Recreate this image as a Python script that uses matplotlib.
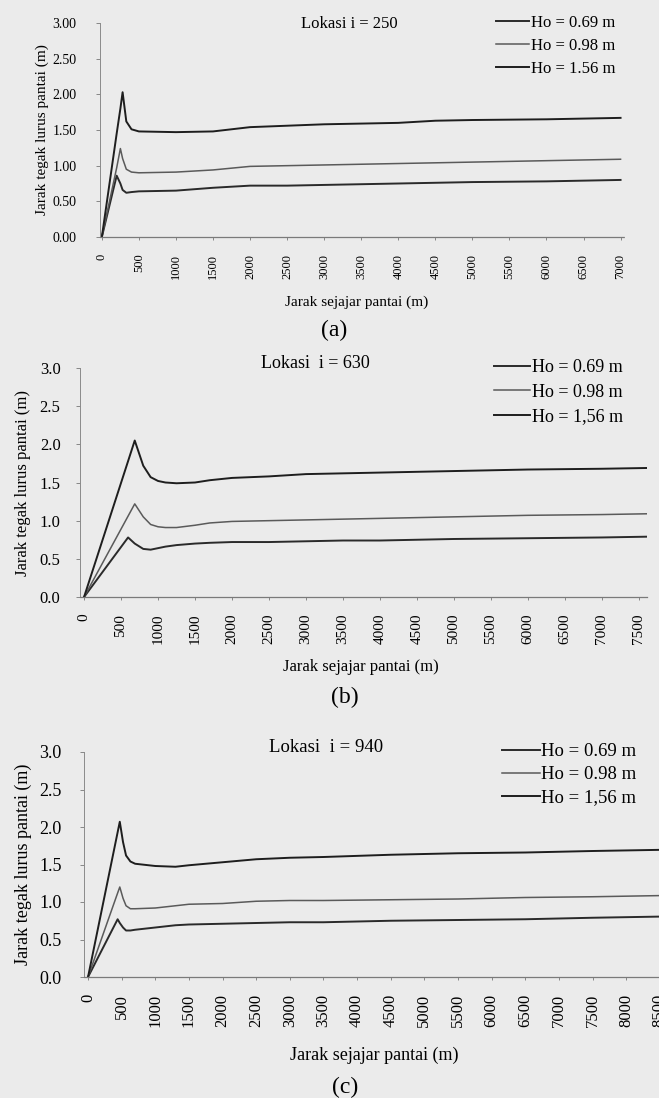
import matplotlib.pyplot as plt
import numpy as np

plt.rcParams['font.family'] = ['Liberation Serif', 'DejaVu Serif']

# data
labels = ['Ho = 0.69 m', 'Ho = 0.98 m', 'Ho = 1.56 m']
labels_c = ['Ho = 0.69 m', 'Ho = 0.98 m', 'Ho = 1,56 m']

# (a) lokasi i = 250
x_a = [0, 200, 250, 280, 330, 400, 500, 1000, 1500, 2000, 2500, 3000, 3500, 4000, 4500, 5000, 6000, 7000]
a_069 = [0, 0.86, 0.75, 0.66, 0.62, 0.63, 0.64, 0.65, 0.69, 0.72, 0.72, 0.73, 0.74, 0.75, 0.76, 0.77, 0.78, 0.80]
a_098 = [0, 0.97, 1.24, 1.10, 0.95, 0.91, 0.90, 0.91, 0.94, 0.99, 1.00, 1.01, 1.02, 1.03, 1.04, 1.05, 1.07, 1.09]
a_156 = [0, 1.45, 1.80, 2.03, 1.62, 1.51, 1.48, 1.47, 1.48, 1.54, 1.56, 1.58, 1.59, 1.60, 1.63, 1.64, 1.65, 1.67]

# (b) lokasi i = 630
x_b = [0, 595, 685, 800, 900, 1000, 1100, 1250, 1500, 1700, 2000, 2500, 3000, 3500, 4000, 5000, 6000, 7000, 7600]
b_069 = [0, 0.78, 0.70, 0.63, 0.62, 0.64, 0.66, 0.68, 0.70, 0.71, 0.72, 0.72, 0.73, 0.74, 0.74, 0.76, 0.77, 0.78, 0.79]
b_098 = [0, 1.06, 1.22, 1.05, 0.95, 0.92, 0.91, 0.91, 0.94, 0.97, 0.99, 1.00, 1.01, 1.02, 1.03, 1.05, 1.07, 1.08, 1.09]
b_156 = [0, 1.78, 2.05, 1.72, 1.57, 1.52, 1.50, 1.49, 1.50, 1.53, 1.56, 1.58, 1.61, 1.62, 1.63, 1.65, 1.67, 1.68, 1.69]

# (c) lokasi i = 940
x_c = [0, 440, 472, 520, 565, 630, 700, 1000, 1300, 1500, 2000, 2500, 3000, 3500, 4500, 5500, 6500, 7500, 8800]
c_069 = [0, 0.77, 0.72, 0.66, 0.62, 0.62, 0.63, 0.66, 0.69, 0.70, 0.71, 0.72, 0.73, 0.73, 0.75, 0.76, 0.77, 0.79, 0.81]
c_098 = [0, 1.12, 1.20, 1.05, 0.95, 0.91, 0.91, 0.92, 0.95, 0.97, 0.98, 1.01, 1.02, 1.02, 1.03, 1.04, 1.06, 1.07, 1.09]
c_156 = [0, 1.93, 2.07, 1.80, 1.62, 1.54, 1.51, 1.48, 1.47, 1.49, 1.53, 1.57, 1.59, 1.60, 1.63, 1.65, 1.66, 1.68, 1.70]

W, H = 659, 1098
fig = plt.figure(figsize=(W / 100, H / 100), dpi=100, facecolor='#ebebeb')

colors = ['#2a2a2a', '#5a5a5a', '#1e1e1e']

panels = [
    dict(x=x_a, ys=[a_069, a_098, a_156], lab=labels, title='Lokasi i = 250', cap='(a)',
         box=(100, 23, 625, 237), xlim=(-25, 7060), xtmax=7000, yfmt='%.2f',
         tfs=9, lfs=11, legfs=12, title_xy=(349, 24), leg_xy=(496, 15), leg_sp=0.42,
         xl_xy=(357, 302), yl_x=42, cap_xy=(334, 330), ytpad=14),
    dict(x=x_b, ys=[b_069, b_098, b_156], lab=labels_c, title='Lokasi  i = 630', cap='(b)',
         box=(80, 368, 647, 597), xlim=(-55, 7610), xtmax=7500, yfmt='%.1f',
         tfs=11, lfs=12, legfs=13, title_xy=(315, 363), leg_xy=(494, 359), leg_sp=0.42,
         xl_xy=(361, 667), yl_x=23, cap_xy=(345, 697), ytpad=11),
    dict(x=x_c, ys=[c_069, c_098, c_156], lab=labels_c, title='Lokasi  i = 940', cap='(c)',
         box=(84, 752, 680, 977), xlim=(-60, 8800), xtmax=8500, yfmt='%.1f',
         tfs=12, lfs=13, legfs=13.5, title_xy=(326, 748), leg_xy=(502, 743), leg_sp=0.32,
         xl_xy=(374, 1055), yl_x=23, cap_xy=(345, 1087), ytpad=13),
]

for p in panels:
    l, t, r, b = p['box']
    ax = fig.add_axes([l / W, 1 - b / H, (r - l) / W, (b - t) / H])
    ax.set_facecolor('none')
    lines = []
    for ys, c, lab in zip(p['ys'], colors, p['lab']):
        ln, = ax.plot(p['x'], ys, color=c, lw=1.4 if c != '#5a5a5a' else 1.1, label=lab)
        lines.append(ln)
    ax.set_xlim(*p['xlim'])
    ax.set_ylim(0, 3)
    yt = np.arange(0, 3.01, 0.5)
    ax.set_yticks(yt)
    ax.set_yticklabels([p['yfmt'] % v for v in yt], fontsize=p['tfs'] + 1)
    xt = np.arange(0, p['xtmax'] + 1, 500)
    ax.set_xticks(xt)
    ax.set_xticklabels([str(int(v)) for v in xt], rotation=90, fontsize=p['tfs'])
    ax.tick_params(axis='y', length=3, width=0.6, color='#777777', pad=p['ytpad'])
    ax.tick_params(axis='x', length=2, width=0.6, color='#777777', pad=10)
    for s in ['top', 'right']:
        ax.spines[s].set_visible(False)
    ax.spines['left'].set_color('#8a8a8a')
    ax.spines['left'].set_linewidth(0.7)
    ax.spines['bottom'].set_color('#7a7a7a')
    ax.spines['bottom'].set_linewidth(0.9)
    ax.spines['bottom'].set_linestyle((0, (4, 1)))

    ax.set_xlabel('Jarak sejajar pantai (m)', fontsize=p['lfs'])
    ax.xaxis.label.set_va('center')
    ax.xaxis.set_label_coords((p['xl_xy'][0] - l) / (r - l), (b - p['xl_xy'][1]) / (b - t))
    ax.set_ylabel('Jarak tegak lurus pantai (m)', fontsize=p['lfs'])
    ax.yaxis.label.set_va('center')
    ax.yaxis.set_label_coords((p['yl_x'] - l) / (r - l), 0.5)

    ax.text((p['title_xy'][0] - l) / (r - l), (b - p['title_xy'][1]) / (b - t), p['title'],
            transform=ax.transAxes, ha='center', va='center', fontsize=p['legfs'])
    fig.legend(handles=lines, loc='upper left', frameon=False, fontsize=p['legfs'],
               bbox_to_anchor=(p['leg_xy'][0] / W, 1 - p['leg_xy'][1] / H),
               borderpad=0, borderaxespad=0, handlelength=2.0, handletextpad=0.1,
               labelspacing=p['leg_sp'])
    fig.text(p['cap_xy'][0] / W, 1 - p['cap_xy'][1] / H, p['cap'], ha='center', va='center',
             fontsize=17)

fig.savefig('out.png', dpi=100, facecolor=fig.get_facecolor())
